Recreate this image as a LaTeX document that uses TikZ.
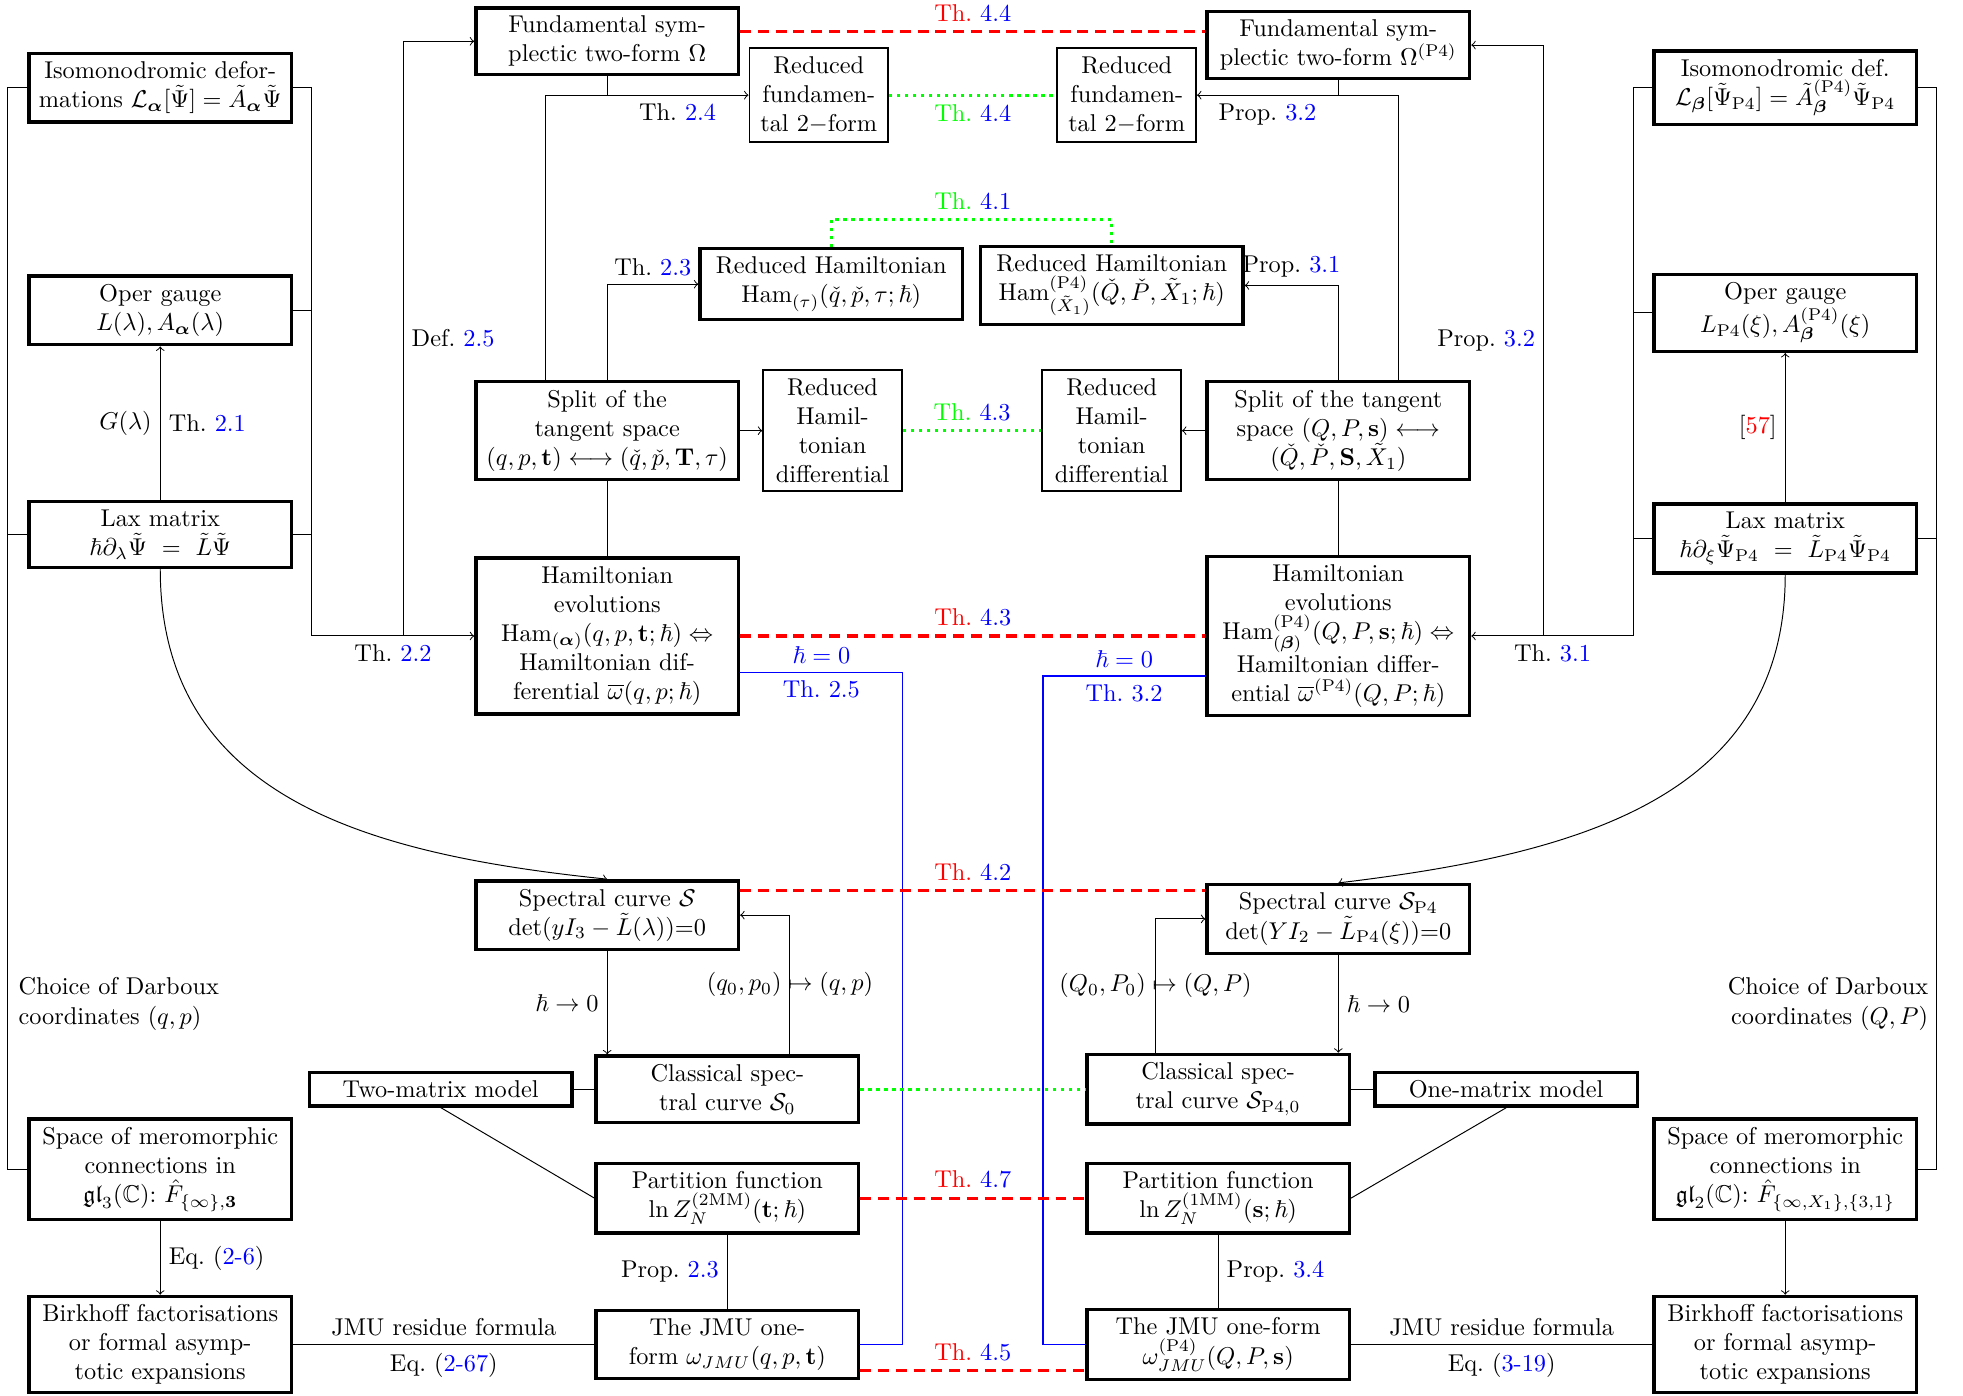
\documentclass[tikz,border=0pt]{standalone}
\usepackage{amsmath,amssymb}

\newcommand{\bref}[1]{\textcolor{blue}{#1}}
\newcommand{\thr}[1]{\textcolor{red}{Th.}~\bref{#1}}
\newcommand{\thg}[1]{\textcolor{green}{Th.}~\bref{#1}}

\begin{document}
\begin{tikzpicture}[x=0.515pt,y=-0.515pt,
  box/.style={draw,line width=1.4pt,align=center,minimum width=108pt},
  sbox/.style={draw,thick,align=center,minimum width=57pt},
  red dash/.style={draw=red,line width=1.3pt,dash pattern=on 4.5pt off 2.8pt},
  green dots/.style={draw=green,line width=1.3pt,dotted},
  blue line/.style={draw=blue,semithick}]

\useasboundingbox (0,0) rectangle (1568,1115);

% left column
\node[box] (isoL) at (128,70) {Isomonodromic defor-\\mations $\mathcal{L}_{\boldsymbol{\alpha}}[\tilde\Psi]=\tilde A_{\boldsymbol{\alpha}}\tilde\Psi$};
\node[box] (operL) at (128,248) {Oper gauge\\$L(\lambda),A_{\boldsymbol{\alpha}}(\lambda)$};
\node[box] (laxL) at (128,427) {Lax matrix\\$\hbar\partial_\lambda\tilde\Psi\ =\ \tilde L\tilde\Psi$};
\node[box] (spaceL) at (128,934) {Space of meromorphic\\connections in\\$\mathfrak{gl}_3(\mathbb{C})$:~$\hat F_{\{\infty\},\mathbf{3}}$};
\node[box] (birkL) at (128,1074) {Birkhoff factorisations\\or formal asymp-\\totic expansions};

% middle left
\node[box] (fundL) at (485,33) {Fundamental sym-\\plectic two-form $\Omega$};
\node[sbox] (redfundL) at (654,76) {Reduced\\fundamen-\\tal 2$-$form};
\node[box] (redhamL) at (664,227) {Reduced Hamiltonian\\$\mathrm{Ham}_{(\tau)}(\check q,\check p,\tau;\hbar)$};
\node[box] (splitL) at (485,344) {Split of the\\tangent space\\$(q,p,\mathbf{t})\longleftrightarrow(\check q,\check p,\mathbf{T},\tau)$};
\node[sbox] (rhdL) at (665,344) {Reduced\\Hamil-\\tonian\\differential};
\node[box] (hamL) at (485,508) {Hamiltonian\\evolutions\\$\mathrm{Ham}_{(\boldsymbol{\alpha})}(q,p,\mathbf{t};\hbar)\Leftrightarrow$\\Hamiltonian dif-\\ferential $\overline{\omega}(q,p;\hbar)$};
\node[box] (specL) at (485,731) {Spectral curve $\mathcal{S}$\\$\det(yI_3-\tilde L(\lambda))$=0};
\node[box] (twomm) at (352,870) {Two-matrix model};
\node[box] (classL) at (581,870) {Classical spec-\\tral curve $\mathcal{S}_0$};
\node[box] (partL) at (581,957) {Partition function\\$\ln Z_N^{(\mathrm{2MM})}(\mathbf{t};\hbar)$};
\node[box] (jmuL) at (581,1074) {The JMU one-\\form $\omega_{JMU}(q,p,\mathbf{t})$};

% middle right
\node[box] (fundR) at (1069,36) {Fundamental sym-\\plectic two-form $\Omega^{(\mathrm{P4})}$};
\node[sbox] (redfundR) at (900,76) {Reduced\\fundamen-\\tal 2$-$form};
\node[box] (redhamR) at (888,228) {Reduced Hamiltonian\\$\mathrm{Ham}^{(\mathrm{P4})}_{(\tilde X_1)}(\check Q,\check P,\tilde X_1;\hbar)$};
\node[box] (splitR) at (1069,344) {Split of the tangent\\space $(Q,P,\mathbf{s})\longleftrightarrow$\\$(\check Q,\check P,\mathbf{S},\tilde X_1)$};
\node[sbox] (rhdR) at (888,344) {Reduced\\Hamil-\\tonian\\differential};
\node[box] (hamR) at (1069,508) {Hamiltonian\\evolutions\\$\mathrm{Ham}^{(\mathrm{P4})}_{(\boldsymbol{\beta})}(Q,P,\mathbf{s};\hbar)\Leftrightarrow$\\Hamiltonian differ-\\ential $\overline{\omega}^{(\mathrm{P4})}(Q,P;\hbar)$};
\node[box] (specR) at (1069,734) {Spectral curve $\mathcal{S}_{\mathrm{P4}}$\\$\det(YI_2-\tilde L_{\mathrm{P4}}(\xi))$=0};
\node[box] (classR) at (973,870) {Classical spec-\\tral curve $\mathcal{S}_{\mathrm{P4},0}$};
\node[box] (onemm) at (1203,870) {One-matrix model};
\node[box] (partR) at (973,957) {Partition function\\$\ln Z_N^{(\mathrm{1MM})}(\mathbf{s};\hbar)$};
\node[box] (jmuR) at (973,1074) {The JMU one-form\\$\omega^{(\mathrm{P4})}_{JMU}(Q,P,\mathbf{s})$};

% right column
\node[box] (isoR) at (1426,70) {Isomonodromic def.\\$\mathcal{L}_{\boldsymbol{\beta}}[\tilde\Psi_{\mathrm{P4}}]=\tilde A^{(\mathrm{P4})}_{\boldsymbol{\beta}}\tilde\Psi_{\mathrm{P4}}$};
\node[box] (operR) at (1426,250) {Oper gauge\\$L_{\mathrm{P4}}(\xi),A^{(\mathrm{P4})}_{\boldsymbol{\beta}}(\xi)$};
\node[box] (laxR) at (1426,430) {Lax matrix\\$\hbar\partial_\xi\tilde\Psi_{\mathrm{P4}}\ =\ \tilde L_{\mathrm{P4}}\tilde\Psi_{\mathrm{P4}}$};
\node[box] (spaceR) at (1426,934) {Space of meromorphic\\connections in\\$\mathfrak{gl}_2(\mathbb{C})$:~$\hat F_{\{\infty,X_1\},\{3,1\}}$};
\node[box] (birkR) at (1426,1074) {Birkhoff factorisations\\or formal asymp-\\totic expansions};

\node[align=left,anchor=west] (darbL) at (8,802) {Choice of Darboux\\coordinates $(q,p)$};
\node[align=right,anchor=east] (darbR) at (1547,802) {Choice of Darboux\\coordinates $(Q,P)$};

\coordinate (barA) at (6,0);
\coordinate (barB) at (249,0);
\coordinate (barC) at (322,0);
\coordinate (barD) at (1233,0);
\coordinate (barE) at (1305,0);
\coordinate (barF) at (1547,0);
\coordinate (jA) at (436,76);
\coordinate (jB) at (1117,76);
\coordinate (qL) at (631,0);
\coordinate (qR) at (923,0);
\coordinate (hbL) at (721,537);
\coordinate (hbR) at (833,540);
\coordinate (thA) at (777,25);
\coordinate (thB) at (777,175);
\coordinate (thD) at (777,711);
\coordinate (thE) at (777,1095);

% brackets on the left
\path[draw] (isoL.west) -- (isoL.west -| barA) -- (spaceL.west -| barA) -- (spaceL.west);
\path[draw] (laxL.west) -- (laxL.west -| barA);
\path[draw] (isoL.east) -- (isoL.east -| barB) -- (hamL.west -| barB);
\path[draw] (operL.east) -- (operL.east -| barB);
\path[draw] (laxL.east) -- (laxL.east -| barB);
\path[draw,->] (hamL.west -| barB) -- (hamL.west) node[midway,below] {Th.~\bref{2.2}};
\path[draw,->] (hamL.west -| barC) |- (fundL.west) node[pos=0.25,right] {Def.~\bref{2.5}};
\path[draw,->] (laxL) -- (operL) node[midway,left] {$G(\lambda)$} node[midway,right] {Th.~\bref{2.1}};
\path[draw,->] (spaceL) -- (birkL) node[midway,right] {Eq.~(\bref{2-6})};
\path[draw] (birkL) -- (jmuL) node[midway,above] {JMU residue formula} node[midway,below] {Eq.~(\bref{2-67})};

% brackets on the right
\path[draw] (isoR.west) -- (isoR.west -| barE) -- (hamR.east -| barE);
\path[draw] (operR.west) -- (operR.west -| barE);
\path[draw] (laxR.west) -- (laxR.west -| barE);
\path[draw,->] (hamR.east -| barE) -- (hamR.east) node[midway,below] {Th.~\bref{3.1}};
\path[draw,->] (hamR.east -| barD) |- (fundR.east) node[pos=0.25,left] {Prop.~\bref{3.2}};
\path[draw] (isoR.east) -- (isoR.east -| barF) -- (spaceR.east -| barF) -- (spaceR.east);
\path[draw] (laxR.east) -- (laxR.east -| barF);
\path[draw,->] (laxR) -- (operR) node[midway,left] {[\textcolor{red}{57}]};
\path[draw,->] (spaceR) -- (birkR);
\path[draw] (jmuR) -- (birkR) node[midway,above] {JMU residue formula} node[midway,below] {Eq.~(\bref{3-19})};

% upper middle
\path[draw] (fundL.south) -- (fundL.south |- jA);
\path[draw,->] (splitL.north -| jA) -- (jA) -- (redfundL.west) node[pos=0.65,below] {Th.~\bref{2.4}};
\path[draw,->] (splitL.north) |- (redhamL.west) node[pos=0.75,above] {Th.~\bref{2.3}};
\path[draw,->] (splitL) -- (rhdL);
\path[draw] (splitL) -- (hamL);
\path[draw] (fundR.south) -- (fundR.south |- jB);
\path[draw,->] (splitR.north -| jB) -- (jB) -- (redfundR.east) node[pos=0.65,below] {Prop.~\bref{3.2}};
\path[draw,->] (splitR.north) |- (redhamR.east) node[pos=0.75,above] {Prop.~\bref{3.1}};
\path[draw,->] (splitR) -- (rhdR);
\path[draw] (splitR) -- (hamR);

\path[red dash] (thA -| fundL.east) -- (thA -| fundR.west) node[midway,above] {\thr{4.4}};
\path[green dots] (redfundL) -- (redfundR) node[midway,below] {\thg{4.4}};
\path[green dots] (redhamL.north) |- (thB) node[above] {\thg{4.1}} -| (redhamR.north);
\path[green dots] (rhdL) -- (rhdR) node[midway,above] {\thg{4.3}};
\path[red dash] (hamL) -- (hamR) node[midway,above] {\thr{4.3}};

\path[blue line] (hbL -| hamL.east) -- (hbL) node[midway,above] {\textcolor{blue}{$\hbar=0$}} node[midway,below] {\textcolor{blue}{Th.~2.5}} |- (jmuL.east);
\path[blue line] (hbR -| hamR.west) -- (hbR) node[midway,above] {\textcolor{blue}{$\hbar=0$}} node[midway,below] {\textcolor{blue}{Th.~3.2}} |- (jmuR.west);

% lower middle
\path[draw,->] (laxL.south) .. controls (128,640) and (300,683) .. (specL.north);
\path[draw,->] (laxR.south) .. controls (1426,640) and (1254,683) .. (specR.north);
\path[red dash] (thD -| specL.east) -- (thD -| specR.west) node[midway,above] {\thr{4.2}};
\path[draw,->] (specL.south) -- (specL.south |- classL.north) node[midway,left] {$\hbar\to0$};
\path[draw,->] (classL.north -| qL) |- (specL.east) node[pos=0.25] {$(q_0,p_0)\mapsto(q,p)$};
\path[draw,->] (specR.south) -- (specR.south |- classR.north) node[midway,right] {$\hbar\to0$};
\path[draw,->] (classR.north -| qR) |- (specR.west) node[pos=0.25] {$(Q_0,P_0)\mapsto(Q,P)$};
\path[green dots] (classL) -- (classR);
\path[draw] (twomm) -- (classL);
\path[draw] (twomm.south) -- (partL.west);
\path[draw] (onemm) -- (classR);
\path[draw] (onemm.south) -- (partR.east);
\path[red dash] (partL) -- (partR) node[midway,above] {\thr{4.7}};
\path[draw] (partL) -- (jmuL) node[midway,left] {Prop.~\bref{2.3}};
\path[draw] (partR) -- (jmuR) node[midway,right] {Prop.~\bref{3.4}};
\path[red dash] (thE -| jmuL.east) -- (thE -| jmuR.west) node[midway,above] {\thr{4.5}};

\end{tikzpicture}
\end{document}
